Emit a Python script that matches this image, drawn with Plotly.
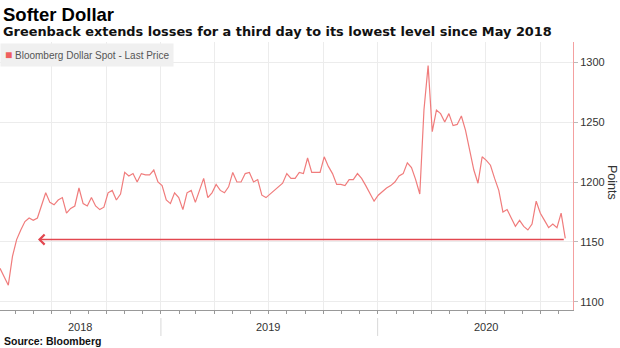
import pandas as pd
import plotly.graph_objects as go

# ---- data (weekly readings of Bloomberg Dollar Spot index) ----
START_DATE = "2018-04-05"
values = [
    1128, 1121, 1114, 1138, 1152, 1160, 1167, 1170, 1168, 1170,
    1180, 1191, 1183, 1181, 1185, 1187, 1174, 1178, 1180, 1195,
    1182, 1180, 1187, 1180, 1177, 1179, 1191, 1193, 1185, 1190,
    1208, 1205, 1207, 1200, 1207, 1206, 1206, 1210, 1200, 1197,
    1185, 1182, 1191, 1187, 1177, 1191, 1193, 1183, 1193, 1203,
    1187, 1191, 1198, 1193, 1191, 1196, 1208, 1200, 1200, 1207,
    1208, 1200, 1202, 1189, 1187, 1190, 1193, 1196, 1199, 1207,
    1203, 1203, 1208, 1207, 1220, 1208, 1208, 1208, 1221, 1213,
    1207, 1198, 1198, 1197, 1202, 1202, 1207, 1203, 1197, 1190,
    1184, 1189, 1192, 1195, 1197, 1200, 1205, 1207, 1216, 1212,
    1202, 1190, 1260, 1297, 1242, 1260, 1257, 1250, 1257, 1247,
    1248, 1255, 1243, 1226, 1210, 1199, 1221, 1218, 1214, 1203,
    1193, 1175, 1177, 1170, 1163, 1168, 1163, 1160, 1165, 1184,
    1174, 1168, 1162, 1165, 1162, 1174, 1153,
]
dates = pd.date_range(START_DATE, periods=len(values), freq="7D")

SERIES_NAME = "Bloomberg Dollar Spot - Last Price"
Y_TICKS = [1100, 1150, 1200, 1250, 1300]
YEAR_LABELS = ["2018", "2019", "2020"]
YEAR_LABEL_DATES = ["2018-08-18", "2019-07-01", "2020-07-02"]
YEAR_BOUNDARIES = ["2019-01-01", "2020-01-01"]
ARROW_LEVEL = 1152
ARROW_TIP_DATE = "2018-06-08"
X_RANGE = ["2018-04-05", "2020-11-25"]
Y_RANGE = [1093.3, 1316.7]

LINE_COLOR = "#f07c7c"
ARROW_COLOR = "#e2474f"
FONT = "Liberation Sans, Arial, sans-serif"
HEAD_FONT = "DejaVu Sans, Verdana, sans-serif"

fig = go.Figure()
fig.add_trace(go.Scatter(
    x=dates, y=values, mode="lines", name=SERIES_NAME,
    line=dict(color=LINE_COLOR, width=1.2), showlegend=False,
))

annotations = []
# Title and subtitle
annotations.append(dict(
    text="<b>Softer Dollar</b>", xref="paper", yref="paper", x=0.0, y=1.104,
    xanchor="left", yanchor="middle", showarrow=False,
    font=dict(family=FONT, size=18.5, color="#000000"), xshift=1,
))
annotations.append(dict(
    text="<b>Greenback extends losses for a third day to its lowest level since May 2018</b>",
    xref="paper", yref="paper", x=0.0, y=1.041,
    xanchor="left", yanchor="middle", showarrow=False,
    font=dict(family=HEAD_FONT, size=12.9, color="#111111"), xshift=1,
))
# Legend box
annotations.append(dict(
    text=f"<span style='color:#ef5f5f;font-size:12px'>■</span> {SERIES_NAME}",
    xref="paper", yref="paper", x=0.0, y=0.996,
    xanchor="left", yanchor="top", showarrow=False,
    bgcolor="#f0f0f0", borderpad=4,
    font=dict(family=FONT, size=10, color="#555555"),
))
# Y-axis title
annotations.append(dict(
    text="Points", xref="paper", yref="paper", x=1.068, y=0.474,
    xanchor="center", yanchor="middle", textangle=90, showarrow=False,
    font=dict(family=FONT, size=12.5, color="#333333"),
))
# Year labels
for lbl, d in zip(YEAR_LABELS, YEAR_LABEL_DATES):
    annotations.append(dict(
        text=lbl, xref="x", yref="paper", x=d, y=-0.063,
        xanchor="center", yanchor="middle", showarrow=False,
        font=dict(family=FONT, size=11, color="#333333"),
    ))
# Source
annotations.append(dict(
    text="<b>Source: Bloomberg</b>", xref="paper", yref="paper", x=0.0, y=-0.116,
    xanchor="left", yanchor="middle", showarrow=False,
    font=dict(family=FONT, size=10.5, color="#111111"), xshift=2,
))
# Arrow to lowest level
annotations.append(dict(
    text="", xref="x", yref="y", x=ARROW_TIP_DATE, y=ARROW_LEVEL,
    axref="x", ayref="y", ax=dates[-1], ay=ARROW_LEVEL,
    showarrow=True, arrowhead=4, arrowsize=1.3, arrowwidth=1.5,
    arrowcolor=ARROW_COLOR, standoff=0, startstandoff=0,
))

shapes = []
for d in YEAR_BOUNDARIES:
    shapes.append(dict(
        type="line", xref="x", yref="paper", x0=d, x1=d, y0=-0.03, y1=-0.097,
        line=dict(color="#d8d8d8", width=1),
    ))

fig.update_layout(
    width=620, height=348,
    margin=dict(l=0, r=47, t=42, b=38),
    paper_bgcolor="white", plot_bgcolor="white",
    font=dict(family=FONT, size=11, color="#333333"),
    annotations=annotations, shapes=shapes,
    showlegend=False,
)
fig.update_xaxes(
    type="date", range=X_RANGE,
    tick0="2018-01-01", dtick="M3",
    showgrid=True, gridcolor="#ececec", gridwidth=1,
    showticklabels=False, ticks="outside", ticklen=3, tickcolor="#999999",
    minor=dict(dtick="M1", ticks="outside", ticklen=3, tickcolor="#999999", showgrid=False),
    showline=True, linecolor="#999999", linewidth=1,
    zeroline=False,
)
fig.update_yaxes(
    side="right", range=Y_RANGE, tickvals=Y_TICKS,
    showgrid=True, gridcolor="#ececec", gridwidth=1,
    ticks="outside", ticklen=4, tickcolor="#bbbbbb",
    showline=True, linecolor="#f4a0a0", linewidth=1,
    tickfont=dict(family=FONT, size=11, color="#333333"),
    zeroline=False,
)

fig.write_html("out.html")
